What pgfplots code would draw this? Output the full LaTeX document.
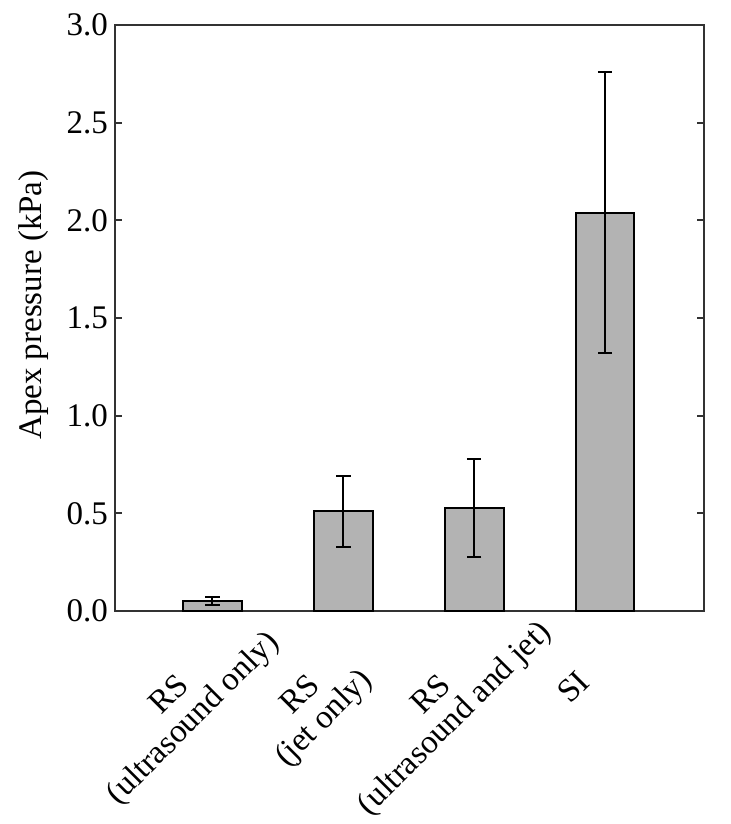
\documentclass[border=0pt]{standalone}
\usepackage{fontspec}
\setmainfont{Liberation Serif}
\usepackage{pgfplots}
\pgfplotsset{compat=1.18}
\usepackage{pgfplotstable}

\definecolor{barfill}{RGB}{179,179,179}
\definecolor{frame}{RGB}{50,50,50}

\pgfplotstableread{
x  y     e
1  0.050 0.020
2  0.510 0.180
3  0.528 0.250
4  2.040 0.720
}\apexdata

\begin{document}
\begin{tikzpicture}
% fixed page: 731 x 824 px at 0.5pt per px
\useasboundingbox (-57.5pt,-106.5pt) rectangle (308pt,305.5pt);
\begin{axis}[
    at={(0,0)}, anchor=south west,
    scale only axis,
    width=294.5pt, height=293pt,
    xmin=0.255, xmax=4.757,
    ymin=0, ymax=3,
    axis line style={frame, line width=1pt},
    xtick={1,2,3},
    xticklabels={RS\\(ultrasound only), RS\\(jet only), RS\\(ultrasound and jet)},
    extra x ticks={4},
    extra x tick labels={SI},
    extra x tick style={major x tick style={draw=none},
        every x tick label/.style={xshift=-16pt, yshift=-34.5pt, rotate=45, anchor=center,
            font=\fontsize{16.5}{16.5}\selectfont}},
    major x tick style={draw=none},
    xticklabel style={xshift=-15pt, yshift=-45pt, rotate=45, anchor=center, align=center,
        font=\fontsize{16.5}{16.5}\selectfont},
    ytick={0,0.5,...,3},
    yticklabel style={font=\fontsize{16.5}{19}\selectfont, /pgf/number format/.cd, fixed, fixed zerofill, precision=1, assume math mode=true},
    tick align=inside,
    major tick length=3.5pt,
    y tick style={frame, line width=1pt},
    ylabel={Apex pressure (kPa)},
    every axis y label/.style={at={(axis description cs:-0.139,0.522)}, rotate=90, anchor=center,
        font=\fontsize{16.5}{19}\selectfont},
    ybar, bar width=0.45,
]
\addplot[fill=barfill, draw=black, line width=1pt,
    error bars/.cd, y dir=both, y explicit,
    error bar style={line width=1pt, black},
    error mark options={rotate=90, mark size=3.6pt, line width=1pt, black}]
    table[x=x, y=y, y error=e] {\apexdata};
\end{axis}
\end{tikzpicture}
\end{document}
